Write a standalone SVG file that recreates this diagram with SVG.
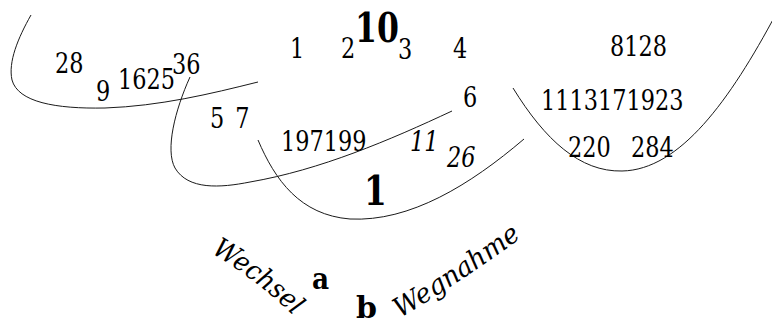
<svg xmlns="http://www.w3.org/2000/svg" width="772" height="325" viewBox="0 0 772 325">
<style>
text{font-family:"DejaVu Serif","Liberation Serif",serif;fill:#000}
.n{font-size:28px}
.i{font-size:28px;font-style:italic}
.b{font-weight:bold}
.w{font-size:27px;font-style:italic}
.c{fill:none;stroke:#1a1a1a;stroke-width:1}
</style>
<defs>
<path id="pw1" d="M211,253 Q256,279 295,317"/>
<path id="pw2" d="M400,318 Q460,283 525,235"/>
</defs>
<rect width="772" height="325" fill="#fff"/>
<g id="curves">
<path class="c" d="M31,15 C18,38 8,62 12,80 C18,102 55,109 105,108 C160,106 210,94 258,82"/>
<path class="c" d="M190,77 C175,110 165,150 175,168 C188,190 220,188 250,182 C320,170 390,140 452,111"/>
<path class="c" d="M258,140 C275,180 300,215 350,219 C410,222 470,185 524,139"/>
<path class="c" d="M513,88 C545,140 580,172 622,171 C680,170 730,100 776,14"/>
</g>
<g id="labels">
<text class="n" transform="translate(55 73) scale(.8 1)">28</text>
<text class="n" transform="translate(96 101) scale(.8 1)">9</text>
<text class="n" transform="translate(118 89) scale(.8 1)">1625</text>
<text class="n" transform="translate(172 74) scale(.8 1)">36</text>
<text class="n" transform="translate(210 128) scale(.8 1)" word-spacing="5">5 7</text>
<text class="n" transform="translate(290 58) scale(.8 1)">1</text>
<text class="n" transform="translate(341 58) scale(.8 1)">2</text>
<text class="b" font-size="41" transform="translate(355 42) scale(.77 1)">10</text>
<text class="n" transform="translate(398 59) scale(.8 1)">3</text>
<text class="n" transform="translate(453 58) scale(.8 1)">4</text>
<text class="n" transform="translate(463 107) scale(.8 1)">6</text>
<text class="n" transform="translate(610 56) scale(.8 1)">8128</text>
<text class="n" transform="translate(541 110) scale(.8 1)">1113171923</text>
<text class="n" transform="translate(568 157) scale(.8 1)">220</text>
<text class="n" transform="translate(631 157) scale(.8 1)">284</text>
<text class="n" transform="translate(281 151) scale(.8 1)">197199</text>
<text class="i" transform="translate(410 151) scale(.8 1)">11</text>
<text class="i" transform="translate(447 167) scale(.8 1)">26</text>
<text class="b" font-size="41" transform="translate(364 205) scale(.8 1)">1</text>
<text class="w"><textPath href="#pw1" textLength="104" lengthAdjust="spacingAndGlyphs">Wechsel</textPath></text>
<text class="b" font-size="30" transform="translate(312 289) scale(.88 1)">a</text>
<text class="b" font-size="30" transform="translate(356 318)">b</text>
<text class="w"><textPath href="#pw2" textLength="146" lengthAdjust="spacingAndGlyphs">Wegnahme</textPath></text>
</g>
</svg>
